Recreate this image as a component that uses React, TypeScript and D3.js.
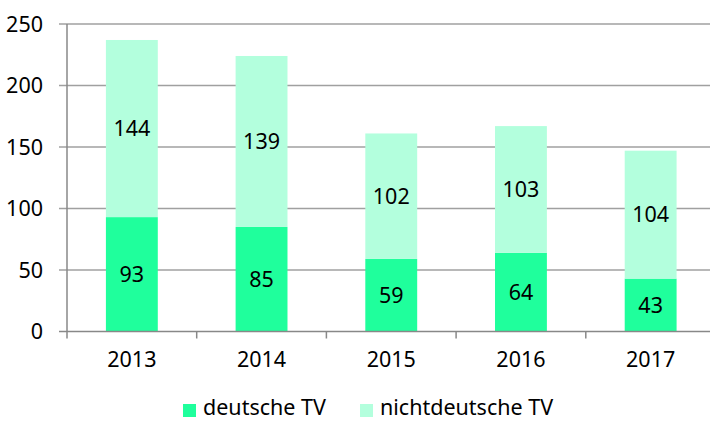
import React from "react";
import * as d3 from "d3";

const years = ["2013", "2014", "2015", "2016", "2017"];
const deutsche = [93, 85, 59, 64, 43];
const nichtdeutsche = [144, 139, 102, 103, 104];
const yTicks = [0, 50, 100, 150, 200, 250];
const seriesNames = ["deutsche TV", "nichtdeutsche TV"];
const colors = ["#1FFF9C", "#B3FFDD"];

export default function App() {
  const W = 710, H = 421;
  const x0 = 67, x1 = 715.5, yBottom = 331.5, yTop = 24;
  const x = d3.scaleBand<string>().domain(years).range([x0, x1]).paddingInner(0).paddingOuter(0);
  const y = d3.scaleLinear().domain([0, 250]).range([yBottom, yTop]);
  const bw = x.bandwidth() * 0.4;
  const font = "'Noto Sans', 'Open Sans', sans-serif";
  const fs = 21.5;
  const stacked = years.map((yr, i) => [
    { y0: 0, y1: deutsche[i], v: deutsche[i] },
    { y0: deutsche[i], y1: deutsche[i] + nichtdeutsche[i], v: nichtdeutsche[i] },
  ]);
  return (
    <svg width={W} height={H} style={{ position: "absolute", left: 0, top: 0, background: "#fff" }} fontFamily={font}>
      {yTicks.filter(t => t > 0).map(t => (
        <line key={t} x1={x0 - 8} x2={W} y1={y(t)} y2={y(t)} stroke="#a0a0a0" strokeWidth={1.4} />
      ))}
      {years.map((yr, i) =>
        stacked[i].map((s, j) => (
          <rect key={yr + j} x={x(yr)! + (x.bandwidth() - bw) / 2} width={bw}
            y={y(s.y1)} height={y(s.y0) - y(s.y1)} fill={colors[j]} />
        ))
      )}
      <line x1={x0} x2={x0} y1={yTop} y2={yBottom} stroke="#888" strokeWidth={1.5} />
      <line x1={x0 - 8} x2={W} y1={yBottom} y2={yBottom} stroke="#888" strokeWidth={1.5} />
      {years.map((yr, i) => (
        <line key={"t" + yr} x1={x(yr)!} x2={x(yr)!} y1={yBottom} y2={yBottom + 7} stroke="#888" strokeWidth={1.5} />
      ))}
      {yTicks.map(t => (
        <text key={"yl" + t} x={43} y={y(t)} dy="0.36em" textAnchor="end" fontSize={fs} fill="#000">{t}</text>
      ))}
      {years.map(yr => (
        <text key={"xl" + yr} x={x(yr)! + x.bandwidth() / 2} y={367} textAnchor="middle" fontSize={fs} fill="#000">{yr}</text>
      ))}
      {years.map((yr, i) =>
        stacked[i].map((s, j) => (
          <text key={"dl" + yr + j} x={x(yr)! + x.bandwidth() / 2} y={(y(s.y0) + y(s.y1)) / 2} dy="0.36em"
            textAnchor="middle" fontSize={fs} fill="#000">{s.v}</text>
        ))
      )}
      <g>
        <rect x={183} y={404} width={13} height={13} fill={colors[0]} />
        <text x={203} y={415} fontSize={fs} fill="#000">{seriesNames[0]}</text>
        <rect x={360} y={404} width={13} height={13} fill={colors[1]} />
        <text x={380} y={415} fontSize={fs} fill="#000">{seriesNames[1]}</text>
      </g>
    </svg>
  );
}
